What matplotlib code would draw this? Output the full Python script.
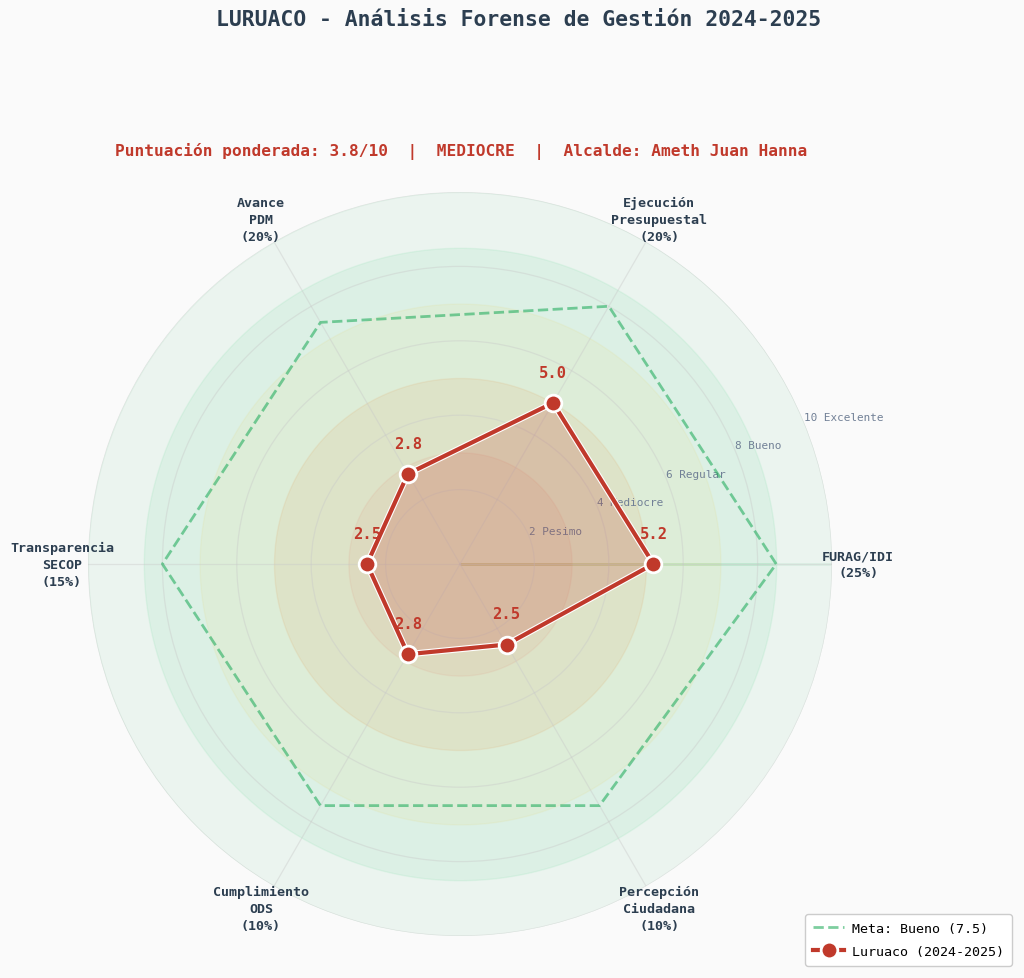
import numpy as np
import matplotlib
matplotlib.use('Agg')
import matplotlib.pyplot as plt
import matplotlib.patheffects as pe
from matplotlib.lines import Line2D

# ---- data ----
categories = ['FURAG/IDI\n(25%)', 'Ejecución\nPresupuestal\n(20%)', 'Avance\nPDM\n(20%)',
              'Transparencia\nSECOP\n(15%)', 'Cumplimiento\nODS\n(10%)',
              'Percepción\nCiudadana\n(10%)']
scores = [5.2, 5.0, 2.8, 2.5, 2.8, 2.5]
meta = [8.5, 8.0, 7.5, 8.0, 7.5, 7.5]
r_ticks = [2, 4, 6, 8, 10]
r_tick_labels = ['2 Pesimo', '4 Mediocre', '6 Regular', '8 Bueno', '10 Excelente']
zone_limits = [10, 8.5, 7, 5, 3]
zone_colors = ['#27ae60', '#2ecc71', '#f1c40f', '#e67e22', '#e74c3c']
zone_alphas = [0.065, 0.08, 0.06, 0.085, 0.06]

title = 'LURUACO - Análisis Forense de Gestión 2024-2025'
subtitle = 'Puntuación ponderada: 3.8/10  |  MEDIOCRE  |  Alcalde: Ameth Juan Hanna'
meta_label = 'Meta: Bueno (7.5)'
series_label = 'Luruaco (2024-2025)'

plt.rcParams['font.family'] = ['DejaVu Sans Mono', 'DejaVu Sans']

DPI = 100
fig = plt.figure(figsize=(10.24, 9.79), dpi=DPI, facecolor='#fafafa')
ax = fig.add_axes([88 / 1024, 42 / 979, 744 / 1024, 744 / 979], projection='polar')
ax.set_facecolor('#fafafa')

n = len(scores)
angles = np.linspace(0, 2 * np.pi, n, endpoint=False)
ang_c = np.concatenate([angles, angles[:1]])

# background zones
theta_full = np.linspace(0, 2 * np.pi, 361)
for lim, col, al in zip(zone_limits, zone_colors, zone_alphas):
    ax.fill_between(theta_full, 0, lim, color=col, alpha=al, zorder=0.5, linewidth=1)

# meta polygon
ax.plot(ang_c, meta + meta[:1], linestyle='--', color='#27ae60', linewidth=2,
        alpha=0.6, zorder=3)

# score polygon
ax.fill(ang_c, scores + scores[:1], color='#c0392b', alpha=0.2, zorder=2.5)
ax.plot(ang_c, scores + scores[:1], '-', color='#c0392b', linewidth=3, zorder=5,
        path_effects=[pe.Stroke(linewidth=4.6, foreground='white'), pe.Normal()])
ax.plot(angles, scores, 'o', color='#c0392b', markersize=12,
        markeredgecolor='white', markeredgewidth=2, zorder=5.5)

for a, v in zip(angles, scores):
    ax.annotate(f'{v:.1f}', (a, v), xytext=(0, 22), textcoords='offset points',
                ha='center', va='center', fontsize=11.2, fontweight='bold',
                color='#c0392b', zorder=6)

ax.set_ylim(0, 10)
ax.set_xticks(angles)
ax.set_xticklabels([])
ax.set_yticks(r_ticks)
ax.set_yticklabels([])
ax.grid(True, color='#c8c8c8', alpha=0.4, linewidth=0.9)
ax.spines['polar'].set_visible(False)
ax.tick_params(length=0)

for a, lab in zip(angles, categories):
    ax.text(a, 10.7, lab, ha='center', va='center', fontsize=9.6, fontweight='bold',
            color='#2c3e50', linespacing=1.4, zorder=6)

for v, lab in zip(r_ticks, r_tick_labels):
    ax.text(np.deg2rad(22.5), v, lab, ha='left', va='bottom', fontsize=7.9,
            color='#718096', zorder=2)

fig.text(519 / 1024, 1 - 20 / 979, title, ha='center', va='center', fontsize=15.4,
         fontweight='bold', color='#2c3e50')
fig.text(461 / 1024, 1 - 152 / 979, subtitle, ha='center', va='center', fontsize=11.6,
         fontweight='bold', color='#c0392b')

handles = [
    Line2D([], [], linestyle='--', color='#27ae60', linewidth=2, alpha=0.6),
    Line2D([], [], linestyle='-', color='#c0392b', linewidth=3, marker='o',
           markersize=12, markeredgecolor='white', markeredgewidth=2),
]
leg = fig.legend(handles, [meta_label, series_label], loc='lower right',
                 bbox_to_anchor=(1012 / 1024, 12 / 979), borderaxespad=0,
                 fontsize=9.6, handlelength=2.3, handletextpad=0.6,
                 labelspacing=0.75, borderpad=0.6,
                 frameon=True, facecolor='white', edgecolor='#cccccc', framealpha=1)

fig.savefig('out.png', dpi=DPI, facecolor='#fafafa')
